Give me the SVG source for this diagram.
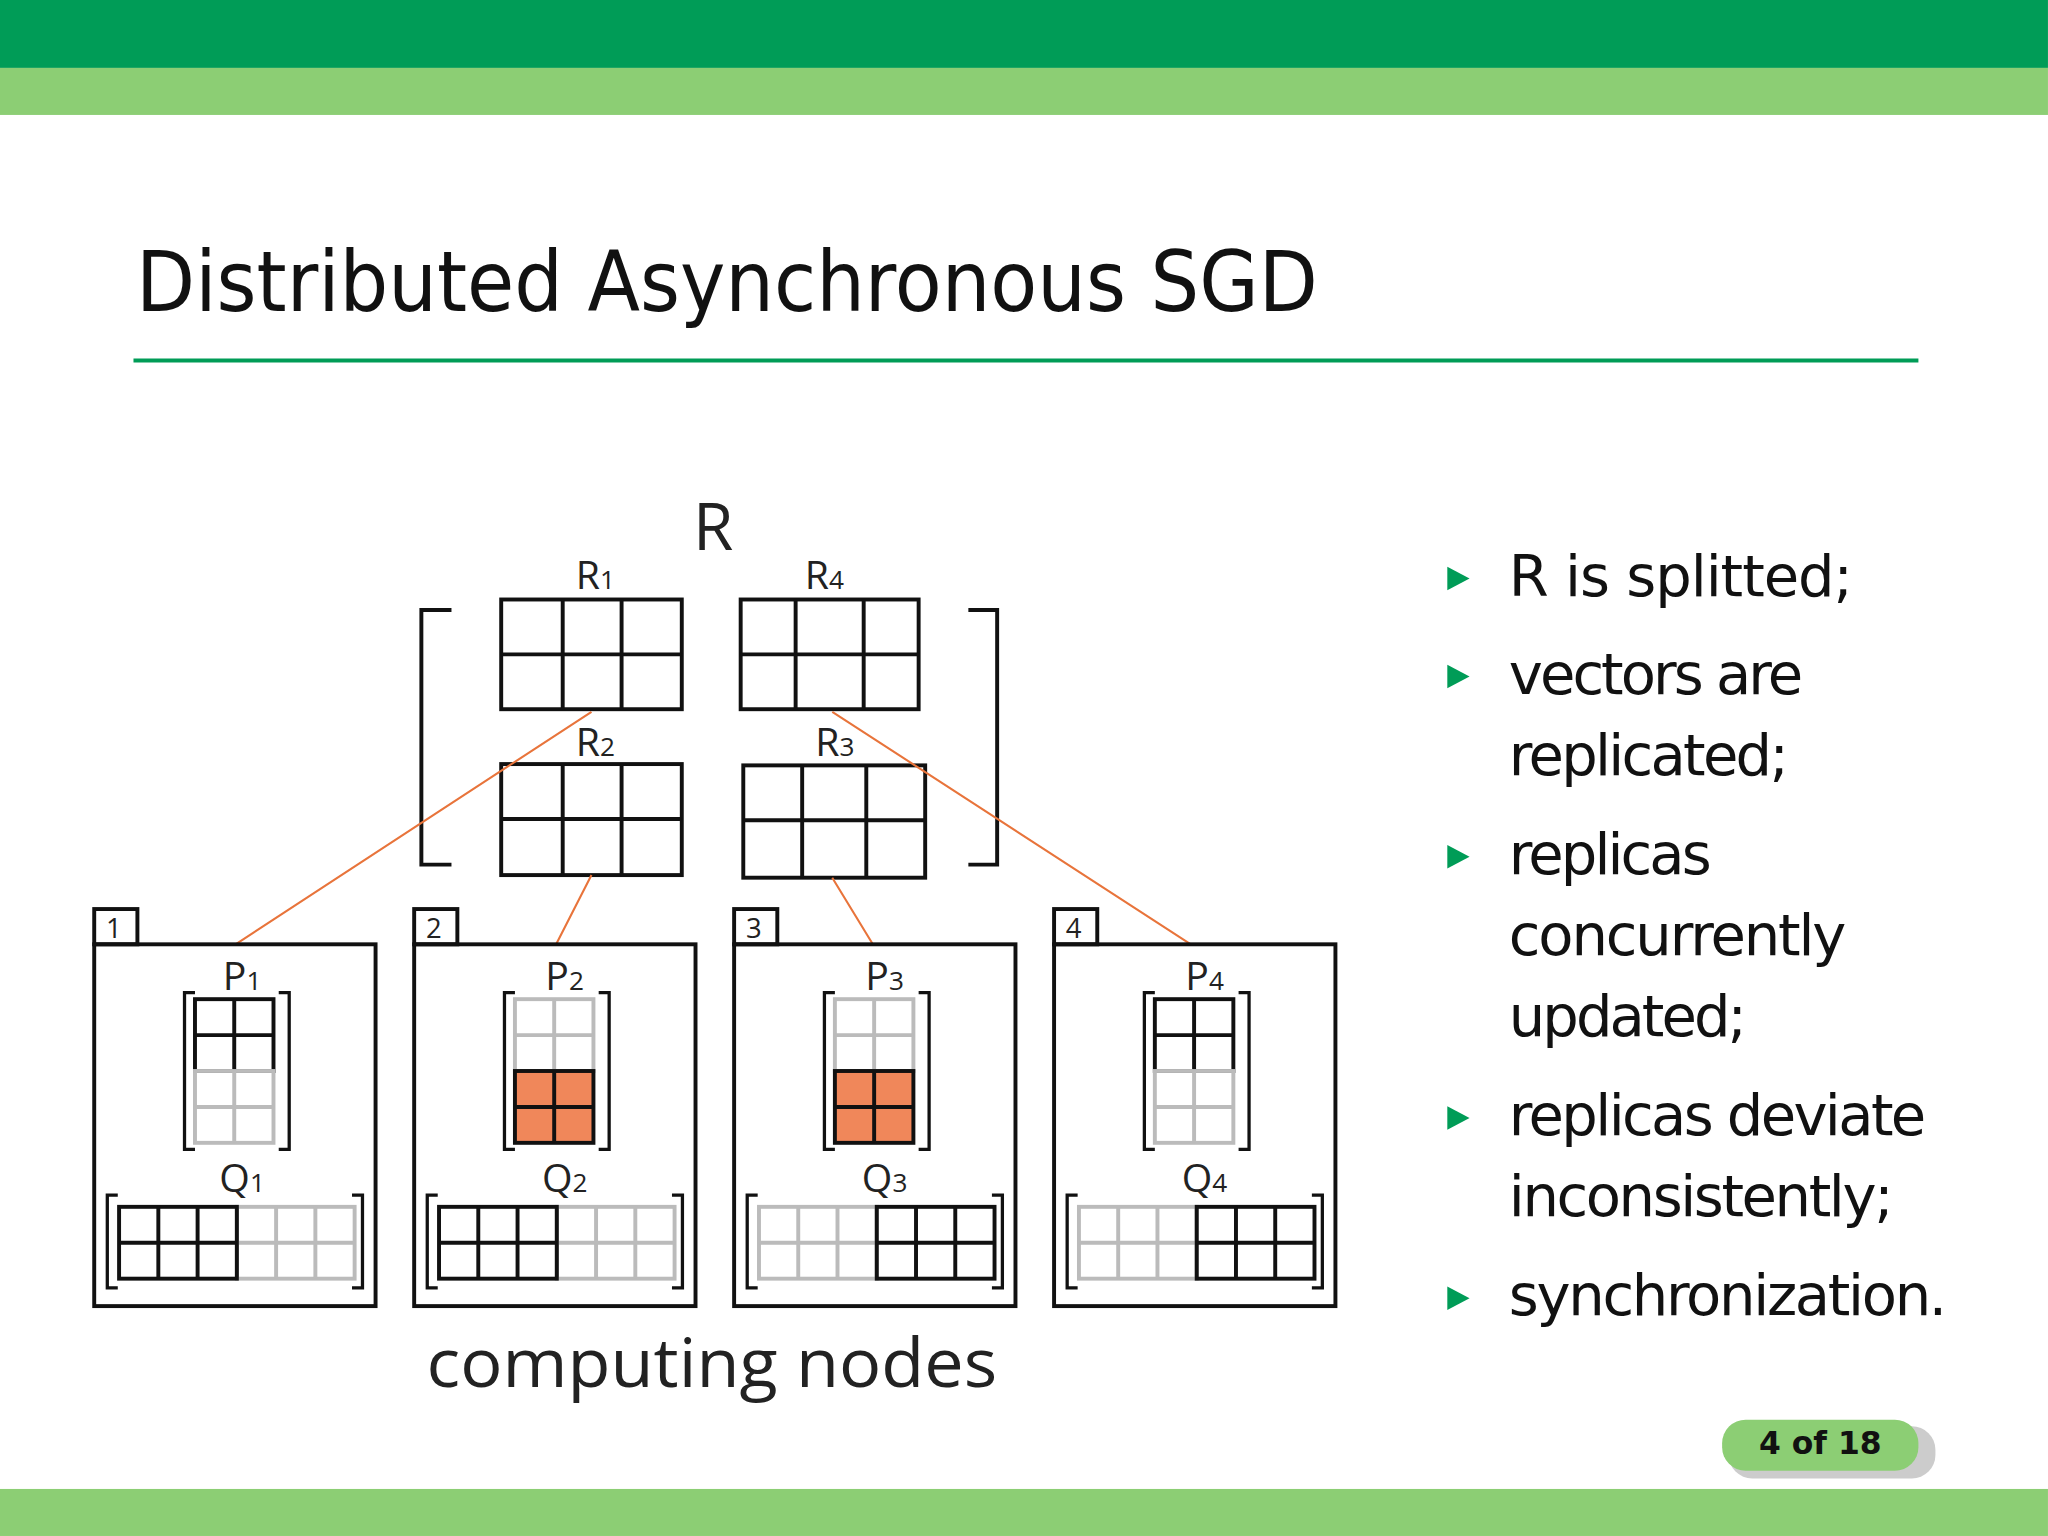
<svg xmlns="http://www.w3.org/2000/svg" width="2048" height="1536" viewBox="0 0 2048 1536">
<defs>
<style>
.k{fill:none;stroke:#111;stroke-width:3}
.o{fill:#f0875a;stroke:#111;stroke-width:3}
.g{fill:none;stroke:#bbb;stroke-width:3}
.b{fill:none;stroke:#111;stroke-width:2.5}
.c{stroke:#e8743b;stroke-width:1.6;fill:none}
.t{font-family:"Open Sans","DejaVu Sans",sans-serif;fill:#222}
.s{font-family:"DejaVu Sans","Liberation Sans",sans-serif;fill:#111}
</style>
<g id="node">
<rect x="72" y="723" width="215" height="277" class="k"/>
<rect x="72" y="696" width="33" height="27" class="k"/>
<path class="b" d="M149 760h-8v120h8M213 760h8v120h-8"/>
<path class="b" d="M90 915h-8v71h8M269 915h8v71h-8"/>
</g>
<g id="pTop"><rect x="149" y="765" width="60" height="55" class="k"/><path class="k" d="M179 765v55M149 792.5h60"/><rect x="149" y="820" width="60" height="55" class="g"/><path class="g" d="M179 820v55M149 847.5h60"/></g>
<g id="pBot"><rect x="149" y="765" width="60" height="55" class="g"/><path class="g" d="M179 765v55M149 792.5h60"/><rect x="149" y="820" width="60" height="55" class="o"/><path class="k" d="M179 820v55M149 847.5h60"/></g>
<g id="qL"><rect x="181" y="924" width="90" height="55" class="g"/><path class="g" d="M211 924v55M241 924v55M181 951.5h90"/><rect x="91" y="924" width="90" height="55" class="k"/><path class="k" d="M121 924v55M151 924v55M91 951.5h90"/></g>
<g id="qR"><rect x="91" y="924" width="90" height="55" class="g"/><path class="g" d="M121 924v55M151 924v55M91 951.5h90"/><rect x="181" y="924" width="90" height="55" class="k"/><path class="k" d="M211 924v55M241 924v55M181 951.5h90"/></g>
</defs>
<rect width="2048" height="1536" fill="#fff"/>
<g transform="scale(1.3086,1.3061)">
<rect x="0" y="0" width="1565" height="52" fill="#009c57"/>
<rect x="0" y="52" width="1565" height="36" fill="#8cce74"/>
<rect x="0" y="1140" width="1565" height="36" fill="#8cce74"/>
<text x="104" y="238" class="s" font-size="64" textLength="903" lengthAdjust="spacingAndGlyphs">Distributed Asynchronous SGD</text>
<line x1="102" y1="276" x2="1466" y2="276" stroke="#009c57" stroke-width="3"/>

<g id="R">
<text x="545" y="421" class="t" font-size="50" text-anchor="middle">R</text>
<path class="k" d="M345 467h-23v195h23M740 467h22v195h-22"/>
<rect x="383" y="459" width="138" height="84" class="k"/><path class="k" d="M430 459v84M475 459v84M383 501h138"/>
<rect x="566" y="459" width="136" height="84" class="k"/><path class="k" d="M608 459v84M660 459v84M566 501h136"/>
<rect x="383" y="585" width="138" height="85" class="k"/><path class="k" d="M430 585v85M475 585v85M383 627h138"/>
<rect x="568" y="586" width="139" height="86" class="k"/><path class="k" d="M613 586v86M662 586v86M568 628h139"/>
<text x="455" y="451" class="t" font-size="30" text-anchor="middle">R<tspan font-size="20">1</tspan></text>
<text x="630" y="451" class="t" font-size="30" text-anchor="middle">R<tspan font-size="20">4</tspan></text>
<text x="455" y="579" class="t" font-size="30" text-anchor="middle">R<tspan font-size="20">2</tspan></text>
<text x="638" y="579" class="t" font-size="30" text-anchor="middle">R<tspan font-size="20">3</tspan></text>
</g>

<g id="connectors">
<path class="c" d="M452 545L180 723M452 670L425 723M636 545L910 723M636 672L667 723"/>
</g>

<g id="n1"><use href="#node"/><use href="#pTop"/><use href="#qL"/>
<text x="87" y="718" class="t" font-size="21" text-anchor="middle">1</text>
<text x="185" y="758" class="t" font-size="30" text-anchor="middle">P<tspan font-size="20">1</tspan></text>
<text x="185" y="913" class="t" font-size="30" text-anchor="middle">Q<tspan font-size="20">1</tspan></text></g>
<g id="n2" transform="translate(244.5,0)"><use href="#node"/><use href="#pBot"/><use href="#qL"/>
<text x="87" y="718" class="t" font-size="21" text-anchor="middle">2</text>
<text x="187" y="758" class="t" font-size="30" text-anchor="middle">P<tspan font-size="20">2</tspan></text>
<text x="187" y="913" class="t" font-size="30" text-anchor="middle">Q<tspan font-size="20">2</tspan></text></g>
<g id="n3" transform="translate(489,0)"><use href="#node"/><use href="#pBot"/><use href="#qR"/>
<text x="87" y="718" class="t" font-size="21" text-anchor="middle">3</text>
<text x="187" y="758" class="t" font-size="30" text-anchor="middle">P<tspan font-size="20">3</tspan></text>
<text x="187" y="913" class="t" font-size="30" text-anchor="middle">Q<tspan font-size="20">3</tspan></text></g>
<g id="n4" transform="translate(733.5,0)"><use href="#node"/><use href="#pTop"/><use href="#qR"/>
<text x="87" y="718" class="t" font-size="21" text-anchor="middle">4</text>
<text x="187" y="758" class="t" font-size="30" text-anchor="middle">P<tspan font-size="20">4</tspan></text>
<text x="187" y="913" class="t" font-size="30" text-anchor="middle">Q<tspan font-size="20">4</tspan></text></g>

<text x="544" y="1062" class="t" font-size="52" text-anchor="middle" textLength="436" lengthAdjust="spacingAndGlyphs">computing nodes</text>

<g id="bullets" fill="#009c57">
<path d="M1106 434l17 9l-17 9z"/><path d="M1106 509l17 9l-17 9z"/><path d="M1106 647l17 9l-17 9z"/><path d="M1106 847l17 9l-17 9z"/><path d="M1106 985l17 9l-17 9z"/>
</g>
<g class="s" font-size="44" lengthAdjust="spacingAndGlyphs">
<text x="1153" y="456" textLength="263">R is splitted;</text>
<text x="1153" y="531" textLength="225">vectors are</text>
<text x="1153" y="593" textLength="214">replicated;</text>
<text x="1153" y="669" textLength="155">replicas</text>
<text x="1153" y="731" textLength="258">concurrently</text>
<text x="1153" y="793" textLength="182">updated;</text>
<text x="1153" y="869" textLength="319">replicas deviate</text>
<text x="1153" y="931" textLength="294">inconsistently;</text>
<text x="1153" y="1007" textLength="335">synchronization.</text>
</g>
<g id="page">
<rect x="1321" y="1092" width="158" height="40" rx="18" fill="#999" opacity="0.5"/>
<rect x="1316" y="1087" width="150" height="39" rx="18" fill="#8cce74"/>
<text x="1391" y="1113" class="s" font-size="24" font-weight="bold" text-anchor="middle" fill="#111">4 of 18</text>
</g>
</g>
</svg>
